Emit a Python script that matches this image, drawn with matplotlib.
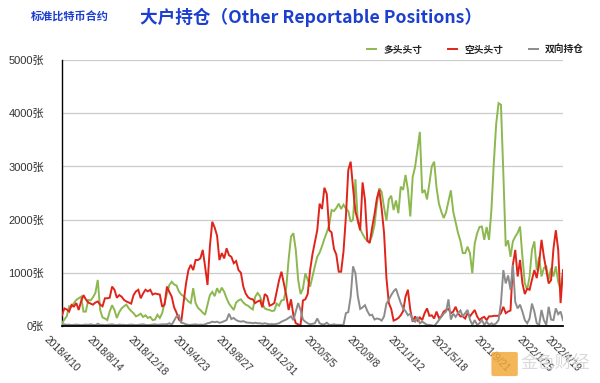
import matplotlib
matplotlib.use("Agg")
import matplotlib.pyplot as plt
import pandas as pd
from matplotlib.patches import FancyBboxPatch

plt.rcParams['font.family'] = ['Liberation Sans', 'Noto Sans CJK SC', 'DejaVu Sans']

start_date = "2018-04-10"
n_weeks = 211
label_step = 18

long_pos = [
    50, 120, 180, 370, 360, 430, 490, 520, 550, 270,
    270, 490, 480, 540, 620, 865, 300, 160, 140, 110,
    270, 390, 300, 150, 260, 330, 370, 400, 330, 280,
    240, 180, 200, 230, 170, 200, 150, 170, 110, 120,
    210, 150, 240, 430, 610, 770, 830, 780, 760, 650,
    590, 560, 510, 460, 430, 710, 430, 340, 300, 250,
    210, 400, 580, 640, 560, 710, 620, 720, 640, 520,
    420, 360, 300, 440, 480, 500, 440, 400, 380, 340,
    310, 550, 620, 560, 420, 330, 310, 300, 280, 290,
    420, 380, 480, 490, 720, 1250, 1680, 1745, 1430, 870,
    600, 700, 990, 870, 740, 930, 1120, 1300, 1380, 1500,
    1640, 1760, 1900, 2180, 2160, 2220, 2300, 2200, 2280, 2210,
    2160, 1960, 2000, 2760, 1960, 1820, 1730, 1650, 1600, 1600,
    1700, 1900, 2300, 2590, 2520, 2230, 1980, 2380, 2450, 2180,
    2360, 2120, 2620, 2560, 2840, 2560, 2060, 2800, 2990, 3310,
    3650, 2500, 2560, 2380, 2680, 3000, 3090, 2600, 2300, 2150,
    2030, 2140, 2350, 2550, 2150, 1950, 1750, 1600, 1370, 1370,
    1490, 1370, 990, 1550, 1740, 1860, 1870, 1620, 1860, 1620,
    2180, 3060, 3800, 4190, 4160, 2870, 1500, 1610, 1300, 1590,
    1680, 1750, 1870, 1300, 800, 680, 930, 1430, 1590, 1050,
    1300, 930, 1090, 1120, 870, 1090, 930, 1120, 830, 680,
    1000,
]

short_pos = [
    200, 330, 310, 270, 395, 365, 430, 300, 460, 580,
    500, 440, 420, 400, 440, 460, 400, 370, 520, 520,
    530, 740, 680, 530, 580, 550, 490, 460, 440, 420,
    580, 650, 680, 520, 610, 680, 650, 680, 590, 610,
    600, 590, 360, 400, 740, 640, 550, 350, 250, 120,
    80, 450, 800, 1050, 1150, 1050, 1240, 1240, 1270, 1430,
    1115, 770, 1500, 1960, 1850, 1700, 1240, 1370, 1270, 1460,
    1330, 1300, 1180, 1220, 1050, 1000, 740, 610, 540, 510,
    500, 430, 460, 480, 350, 600, 560, 380, 400, 430,
    650, 860, 1020, 800, 580, 300, 500, 200, 50, 30,
    10, 480, 500, 600, 1050, 1350, 1580, 1800, 2300, 2200,
    2600, 2480, 1800, 1760, 1450, 1340, 1020, 1020, 1400, 2050,
    2930, 3090, 2600, 2150, 1990, 1800, 2700, 2370, 1600, 1560,
    1850, 2100, 2400, 2560, 2200, 1750, 900, 430, 320, 100,
    120, 150, 200, 280, 550, 680, 300, 80, 180, 100,
    160, 110, 240, 330, 190, 200, 140, 270, 150, 180,
    270, 300, 320, 240, 270, 360, 240, 180, 180, 140,
    240, 180, 240, 300, 180, 110, 150, 170, 110, 180,
    180, 190, 190, 190, 240, 360, 240, 270, 290, 1150,
    1430, 930, 1240, 800, 600, 700, 680, 870, 1050, 900,
    1180, 1620, 1300, 1050, 800, 860, 1450, 1800, 1430, 430,
    1050,
]

spread_pos = [
    20, 30, 20, 25, 15, 20, 25, 20, 15, 20,
    25, 20, 30, 20, 15, 40, 20, 20, 15, 20,
    25, 30, 20, 15, 25, 20, 20, 15, 20, 25,
    20, 15, 20, 25, 30, 20, 15, 20, 25, 30,
    20, 25, 30, 30, 30, 50, 20, 100, 180, 200,
    60, 50, 30, 20, 20, 25, 30, 20, 25, 20,
    30, 50, 60, 80, 70, 80, 60, 70, 90, 110,
    230, 130, 150, 110, 90, 80, 90, 70, 60, 60,
    50, 60, 50, 50, 40, 50, 40, 30, 35, 30,
    40, 50, 80, 100, 120, 150, 180, 110, 270, 430,
    300, 120, 80, 50, 30, 40, 50, 140, 50, 30,
    30, 60, 20, 20, 30, 20, 20, 20, 20, 240,
    260, 550, 1120, 990, 560, 320, 350, 390, 280, 200,
    210, 120, 140, 130, 100, 180, 420, 490, 580, 650,
    700, 560, 430, 330, 280, 200, 230, 110, 80, 170,
    50, 80, 50, 20, 20, 10, 0, 50, 110, 170,
    230, 270, 500, 120, 230, 170, 240, 290, 180, 240,
    300, 120, 20, 110, 20, 50, 110, 20, 80, 20,
    50, 20, 50, 110, 430, 1050, 800, 950, 680, 1150,
    450, 330, 400, 270, 110, 50, 140, 420, 270, 50,
    20, 300, 110, 20, 360, 120, 110, 330, 220, 270,
    110,
]

series_names = ["多头头寸", "空头头寸", "双向持仓"]
series_colors = ["#8cb84f", "#e0241b", "#8c8c8c"]
y_ticks = [0, 1000, 2000, 3000, 4000, 5000]
y_labels = [f"{v}张" for v in y_ticks]

dates = pd.date_range(start_date, periods=n_weeks, freq="7D")
tick_idx = list(range(0, n_weeks, label_step)) + [n_weeks - 1]
tick_dates = [dates[i] for i in tick_idx]
tick_labels = [f"{d.year}/{d.month}/{d.day}" for d in tick_dates]

fig = plt.figure(figsize=(6.0, 3.83), dpi=100)
ax = fig.add_axes([0.1033, 0.149, 0.835, 0.694])

for vals, name, col in zip([long_pos, short_pos, spread_pos], series_names, series_colors):
    ax.plot(dates, vals, color=col, lw=1.4, label=name, zorder=3, solid_joinstyle="miter")

ax.set_ylim(0, 5000)
ax.set_xlim(dates[0], dates[-1])
ax.set_yticks(y_ticks)
ax.set_yticklabels(y_labels, fontsize=8, color="#333333")
ax.set_xticks(tick_dates)
ax.set_xticklabels(tick_labels, fontsize=7.4, color="#333333", rotation=-45,
                   ha="center", va="top")
ax.tick_params(axis="both", length=0)
ax.tick_params(axis="y", pad=13)
ax.tick_params(axis="x", pad=6)
ax.grid(axis="y", color="#cccccc", lw=0.9, zorder=0)
for s in ["top", "right"]:
    ax.spines[s].set_visible(False)
ax.spines["left"].set_color("black")
ax.spines["left"].set_linewidth(1.0)
ax.spines["bottom"].set_color("black")
ax.spines["bottom"].set_linewidth(1.3)
ax.spines["bottom"].set_zorder(4)

leg = ax.legend(loc="center right", bbox_to_anchor=(1.06, 1.04), ncol=3, frameon=False,
                handlelength=0.9, handletextpad=0.8, columnspacing=2.6,
                prop={"size": 7, "weight": "bold", "family": ["Noto Sans CJK SC"]})
for t in leg.get_texts():
    t.set_color("#222222")

fig.text(0.052, 0.955, "标准比特币合约", fontsize=8, fontweight="bold", color="#1c3fd0",
         family=["Noto Sans CJK SC"], va="center", ha="left")
fig.text(0.234, 0.955, "大户持仓（Other Reportable Positions）", fontsize=12.7, fontweight="bold",
         color="#1c3fd0", family=["Noto Sans CJK SC"], va="center", ha="left")

# watermark
fig.patches.append(FancyBboxPatch((0.823, 0.022), 0.036, 0.055, boxstyle="round,pad=0.004",
                                  transform=fig.transFigure, facecolor="#f2a93b",
                                  edgecolor="none", alpha=0.85, zorder=10))
fig.text(0.868, 0.052, "金色财经", fontsize=12.5, color="#d6d6d6", family=["Noto Sans CJK SC"],
         va="center", ha="left", zorder=10, alpha=0.9)

fig.savefig("out.png", dpi=100)
